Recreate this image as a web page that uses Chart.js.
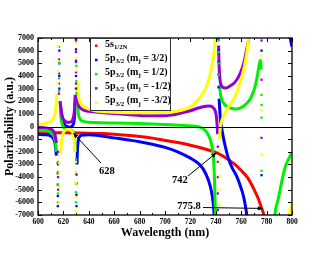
<!DOCTYPE html>
<html><head><meta charset="utf-8">
<script src="https://cdn.jsdelivr.net/npm/chart.js"></script>
<style>html,body{margin:0;padding:0;background:#fff;overflow:hidden}</style>
</head><body>
<canvas id="c" width="330" height="255"></canvas>
<script>
// ---------- data (wavelength nm, polarizability a.u.; null = break at resonance) ----------
const xTickValues = [600,620,640,660,680,700,720,740,760,780,800];
const xMinorTicks = [600,610,620,630,640,650,660,670,680,690,700,710,720,730,740,750,760,770,780,790,800];
const yTickValues = [-7000,-6000,-5000,-4000,-3000,-2000,-1000,0,1000,2000,3000,4000,5000,6000,7000];

const redWl = [600,620,640,650,660,670,680,690,700,710,720,730,740,745,750,755,760,765,770,773,776,778,779.5];
const redA  = [-480,-500,-530,-560,-620,-700,-790,-920,-1100,-1270,-1480,-1740,-2050,-2300,-2620,-3000,-3480,-4050,-4950,-5600,-6450,-7100,-8500];

const blueWl = [600,605,610,612,613.5,614.5,null,617.6,618.3,619.5,621,623,625,627,628,628.8,629.3,null,630.7,631,631.6,632.5,634,640,650,660,670,680,690,700,710,720,726,730,734,736.5,738,739,null,742.6,743,743.7,744.6,746,748,750,753,756.5,760,762,764,765.5,null,797.5,798.5,800];
const blueA  = [-620,-650,-750,-950,-1400,-2300,null,1800,1200,500,150,0,-50,50,250,800,2000,null,-3000,-2000,-1200,-850,-700,-650,-750,-900,-1050,-1200,-1400,-1650,-2000,-2500,-2900,-3350,-4200,-5100,-6100,-7500,null,2200,1500,500,-100,-900,-1800,-2550,-3300,-3950,-4900,-5600,-6700,-8000,null,9000,7200,6300];
const blueDotWl = [615.6,615.6,615.6,615.6,615.6,616.8,616.8,616.8,616.8,629.9,629.9,629.9,629.9,629.9,630.3,630.3,630.3,630.3,742.1,742.1,742.1,742.1,742.1,776,776];
const blueDotA  = [-2900,-3700,-4600,-5500,-6300,3000,4000,5000,6000,3000,4000,5200,6100,6900,-3800,-4500,-5400,-6300,3100,4100,5100,6000,6900,6000,-3850];

const greenWl = [600,605,610,612,613.5,614.5,null,617.4,618,619,620.5,623,625.5,627,628,628.8,629.3,null,631,631.8,633,636,640,660,680,700,715,725,729,732,734,736,737.5,738.5,739.2,739.8,null,743.1,743.3,744.5,746,748.5,751.2,754,756.4,759,761.7,764.5,767,769,771,772.5,773.5,774.6,775.3,775.7,null,786,787,789,790.6,792.5,794.5,796.5,798.4,800];
const greenA  = [-300,-330,-450,-650,-1100,-2000,null,2000,800,200,-100,-200,-250,-350,-550,-1000,-2000,null,2000,1000,600,400,330,280,230,150,80,0,-120,-350,-650,-1150,-1900,-3000,-5000,-7500,null,3300,2900,2200,1870,1600,1480,1400,1380,1450,1600,1850,2150,2600,3200,3900,4500,5100,5250,4500,null,-7500,-6600,-5800,-5000,-4100,-3250,-2750,-2350,-2050];
const greenDotWl = [615.7,615.7,615.7,615.7,615.7,616.6,616.6,616.6,616.6,629.9,629.9,629.9,629.9,629.9,630.2,630.2,630.2,742.3,742.3,742.3,742.3,776,776,776,776];
const greenDotA  = [-2800,-3600,-4600,-5300,-6000,2800,3800,5000,6300,-2600,-3600,-4500,-5200,-6000,2600,3600,4800,4100,5000,5900,6800,2500,1700,700,-3500];

const purpleWl = [600,605,610,612,613.5,614.5,null,617.4,618,619,620.5,622.5,624.5,626.5,627.8,628.7,629.3,null,631,631.5,633,636,640,650,657,670,685,698,705,712,720,727,732,735.4,738,739.5,740.3,741,741.4,null,742.2,742.6,743.3,744.6,746,747.5,749.5,751.5,754,756.5,758.5,760.4,762.5,764.3,765.5,766.7,768];
const purpleA  = [-80,-100,-200,-350,-700,-1300,null,2000,1400,800,500,350,330,400,700,1300,2500,null,2800,1900,1500,1300,1200,1100,1050,950,850,850,900,1050,1250,1480,1600,1620,1480,1250,900,200,-600,null,6400,4800,3700,3200,3080,3050,3100,3220,3400,3700,4050,4500,5200,6100,6700,7500,9000];
const purpleDotWl = [615.8,615.8,615.8,615.8,616.5,616.5,616.5,616.5,629.9,629.9,629.9,629.9,629.9,741.6,741.6,741.6,741.6,741.6,776,776,776];
const purpleDotA  = [-2000,-3000,-4000,-5000,2600,3400,4200,5300,3400,4300,5100,5900,6800,-1600,-2800,-4000,-5300,-6600,6800,3700,-900];

const yellowWl = [600,604,608,611,612.5,613.5,614.3,614.9,null,617.7,618.5,619.5,620.5,622,623.5,625,626.3,627.3,628,628.6,629.1,null,631,631.6,632.5,634,637,640,645,650,660,670,680,690,700,708,716,722,726,729,732,735,737,738.5,739.4,740.3,741,null,743,743.3,743.8,744.8,746.5,748.5,751,753.7,756.5,759,761,763,764.5,765.6,766.7,null,797,798.4,800];
const yellowA  = [150,200,300,500,750,1100,1700,2600,null,-2200,-1200,-650,-400,-250,-200,-230,-330,-500,-700,-1100,-2000,null,3500,2600,2100,1750,1500,1380,1250,1180,1120,1090,1080,1090,1120,1200,1380,1700,2100,2500,3000,3900,4800,5800,6700,8000,9500,null,-1000,-400,100,500,900,1300,1700,2100,2700,3450,4100,5000,5900,6800,8000,null,-7600,-6700,-6100];
const yellowDotWl = [615.7,615.7,615.7,615.7,616.7,616.7,616.7,616.7,629.8,629.8,629.8,629.8,629.8,630.3,630.3,630.3,742.9,742.9,742.9,742.9,742.9,776,776,776];
const yellowDotA  = [3400,4300,5200,6300,-2900,-3700,-4800,-6000,-2800,-3600,-4500,-5600,-6700,4400,5400,6600,-1900,-2900,-3900,-5000,-6200,5600,1300,-2200];

// legend text: [text, isSubscript]
const legendNames = [
  [['5s',0],['1/2N',1]],
  [['5p',0],['3/2',1],[' (m',0],['j',1],[' = 3/2)',0]],
  [['5p',0],['3/2',1],[' (m',0],['j',1],[' = 1/2)',0]],
  [['5p',0],['3/2',1],[' (m',0],['j',1],[' = -1/2)',0]],
  [['5p',0],['3/2',1],[' (m',0],['j',1],[' = -3/2)',0]]
];

// annotations (data coordinates)
const annoText  = ['628','742','775.8'];
const annoTipX  = [627.8, 740.5, 777];
const annoTipY  = [-520, -2080, -6480];
const annoTailX = [649.6, 718.1, 729.9];
const annoTailY = [-2890, -3915, -6410];
const annoTextX = [654.3, 711.8, 718.9];
const annoTextY = [-3520, -4230, -6330];

// ---------- build ----------
const FONT = '"Liberation Serif","DejaVu Serif",serif';
const colors = ['#ff0000','#0000ff','#00f000','#9400d3','#ffff00'];
function pts(xs, ys){ return xs.map((x,i)=> x===null ? {x:NaN,y:null} : {x:x,y:ys[i]}); }
const lines = [[redWl,redA],[blueWl,blueA],[greenWl,greenA],[purpleWl,purpleA],[yellowWl,yellowA]];
const dots = [null,[blueDotWl,blueDotA],[greenDotWl,greenDotA],[purpleDotWl,purpleDotA],[yellowDotWl,yellowDotA]];
const datasets = [];
lines.forEach((s,i)=>{
  datasets.push({data:pts(s[0],s[1]), showLine:true, borderColor:colors[i], backgroundColor:colors[i],
    borderWidth:3, pointRadius:0, spanGaps:false, cubicInterpolationMode:'monotone', clip:0, order:10-i});
  if(dots[i]) datasets.push({data:pts(dots[i][0],dots[i][1]), showLine:false, pointStyle:'rect',
    pointRadius:1.6, borderWidth:0, backgroundColor:colors[i], borderColor:colors[i], clip:0, order:5-i});
});

function richText(ctx, parts, x, y, size){
  let cx = x;
  for(const [t,sub] of parts){
    ctx.font = 'bold ' + (sub? size*0.68 : size) + 'px ' + FONT;
    ctx.fillText(t, cx, sub ? y + size*0.3 : y);
    cx += ctx.measureText(t).width;
  }
}

const deco = {
  id:'deco',
  afterDatasetsDraw(chart){
    const {ctx, chartArea:a, scales:{x,y}} = chart;
    ctx.save();
    ctx.strokeStyle='#000'; ctx.fillStyle='#000';
    ctx.lineWidth=1;
    const y0 = Math.round(y.getPixelForValue(0))+0.5;
    ctx.beginPath(); ctx.moveTo(a.left,y0); ctx.lineTo(a.right,y0); ctx.stroke();
    ctx.beginPath();
    for(const v of xMinorTicks){
      const px = Math.round(x.getPixelForValue(v))+0.5;
      const len = xTickValues.includes(v) ? 4 : 2;
      ctx.moveTo(px,a.bottom); ctx.lineTo(px,a.bottom-len);
      ctx.moveTo(px,a.top); ctx.lineTo(px,a.top+len);
    }
    for(const v of yTickValues){
      const py = Math.round(y.getPixelForValue(v))+0.5;
      ctx.moveTo(a.left,py); ctx.lineTo(a.left+4,py);
      ctx.moveTo(a.right,py); ctx.lineTo(a.right-4,py);
    }
    ctx.stroke();
    ctx.lineWidth=1.3;
    ctx.strokeRect(a.left, a.top, a.right-a.left, a.bottom-a.top);
    ctx.lineWidth=1;
    for(let i=0;i<annoText.length;i++){
      const tx=x.getPixelForValue(annoTailX[i]), ty=y.getPixelForValue(annoTailY[i]);
      const hx=x.getPixelForValue(annoTipX[i]), hy=y.getPixelForValue(annoTipY[i]);
      ctx.beginPath(); ctx.moveTo(tx,ty); ctx.lineTo(hx,hy); ctx.stroke();
      const ang=Math.atan2(hy-ty,hx-tx), L=5, W=2.2;
      ctx.beginPath(); ctx.moveTo(hx,hy);
      ctx.lineTo(hx-L*Math.cos(ang)+W*Math.sin(ang), hy-L*Math.sin(ang)-W*Math.cos(ang));
      ctx.lineTo(hx-L*Math.cos(ang)-W*Math.sin(ang), hy-L*Math.sin(ang)+W*Math.cos(ang));
      ctx.closePath(); ctx.fill();
      ctx.font='bold 10.5px '+FONT; ctx.textAlign='center'; ctx.textBaseline='middle';
      ctx.fillText(annoText[i], x.getPixelForValue(annoTextX[i]), y.getPixelForValue(annoTextY[i]));
    }
    const bx=a.left+52, by=a.top, bw=80, bh=72;
    ctx.fillStyle='#fff'; ctx.fillRect(bx,by,bw,bh);
    ctx.strokeStyle='#333'; ctx.lineWidth=1; ctx.strokeRect(bx+0.5,by+0.5,bw,bh);
    ctx.textAlign='left'; ctx.textBaseline='middle';
    legendNames.forEach((parts,i)=>{
      const ry = by + 7 + i*14.2;
      ctx.fillStyle=colors[i]; ctx.fillRect(bx+5, ry-0.5, 2.5, 2.5);
      ctx.fillStyle='#000';
      richText(ctx, parts, bx+15, ry-1, 10);
    });
    ctx.restore();
  }
};

new Chart(document.getElementById('c'), {
  type:'scatter',
  data:{datasets},
  options:{
    responsive:false, animation:false, devicePixelRatio:1,
    layout:{padding:{top:38,right:38,left:0,bottom:0}},
    plugins:{legend:{display:false}, tooltip:{enabled:false}},
    scales:{
      x:{type:'linear', min:600, max:800,
        afterBuildTicks:s=>{ s.ticks = xTickValues.map(v=>({value:v})); },
        ticks:{callback:v=>String(v), font:{family:FONT, weight:'bold', size:7.5}, color:'#000', padding:3, maxRotation:0, autoSkip:false},
        grid:{display:false, drawTicks:false}, border:{display:false},
        title:{display:true, text:'Wavelength (nm)', font:{family:FONT, weight:'bold', size:12}, color:'#000', padding:{top:0,bottom:15}},
        afterFit:s=>{ s.height=40; }
      },
      y:{type:'linear', min:-7000, max:7000,
        afterBuildTicks:s=>{ s.ticks = yTickValues.map(v=>({value:v})); },
        ticks:{callback:v=>String(v), font:{family:FONT, weight:'bold', size:8}, color:'#000', padding:4, autoSkip:false},
        grid:{display:false, drawTicks:false}, border:{display:false},
        title:{display:true, text:'Polarizability (a.u.)', font:{family:FONT, weight:'bold', size:12}, color:'#000', padding:{top:3,bottom:0}},
        afterFit:s=>{ s.width=38; }
      }
    }
  },
  plugins:[deco]
});
</script>
</body></html>
